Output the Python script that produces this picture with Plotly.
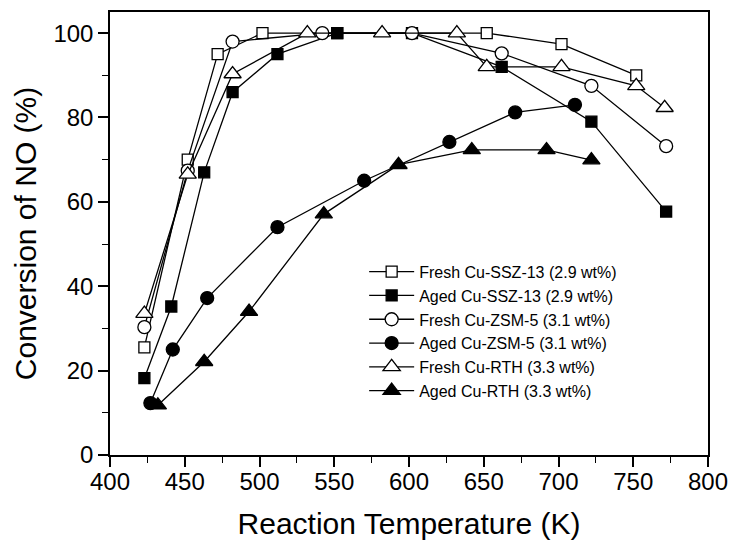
import plotly.graph_objects as go

# Data
fresh_ssz_T = [423, 452, 472, 502, 552, 652, 702, 752]
fresh_ssz = [25.5, 70, 95, 100, 100, 100, 97.4, 90]

aged_ssz_T = [423, 441, 463, 482, 512, 552, 602, 662, 722, 772]
aged_ssz = [18.2, 35.2, 67, 86, 95, 100, 100, 92, 79, 57.7]

fresh_zsm_T = [423, 452, 482, 542, 602, 662, 722, 772]
fresh_zsm = [30.3, 67.4, 98, 100, 100, 95.2, 87.5, 73.2]

aged_zsm_T = [427, 442, 465, 512, 570, 627, 671, 711]
aged_zsm = [12.3, 25, 37.2, 54, 65, 74.2, 81.2, 83]

fresh_rth_T = [423, 452, 482, 532, 582, 632, 652, 702, 752, 771]
fresh_rth = [33.5, 66.5, 90.3, 100, 100, 100, 92, 92, 87.5, 82.3]

aged_rth_T = [432, 463, 493, 543, 593, 642, 692, 722]
aged_rth = [11.8, 22.1, 34, 57.1, 68.8, 72.3, 72.3, 69.9]

names = [
    "Fresh Cu-SSZ-13 (2.9 wt%)",
    "Aged Cu-SSZ-13 (2.9 wt%)",
    "Fresh Cu-ZSM-5 (3.1 wt%)",
    "Aged Cu-ZSM-5 (3.1 wt%)",
    "Fresh Cu-RTH (3.3 wt%)",
    "Aged Cu-RTH (3.3 wt%)",
]

series = [
    (fresh_ssz_T, fresh_ssz, "square", "white", 11),
    (aged_ssz_T, aged_ssz, "square", "black", 11),
    (fresh_zsm_T, fresh_zsm, "circle", "white", 13),
    (aged_zsm_T, aged_zsm, "circle", "black", 13),
    (fresh_rth_T, fresh_rth, "triangle-up", "white", 15),
    (aged_rth_T, aged_rth, "triangle-up", "black", 15),
]

fig = go.Figure()
for name, (xs, ys, sym, fill, size) in zip(names, series):
    fig.add_trace(go.Scatter(
        x=xs, y=ys, name=name, mode="lines+markers",
        line=dict(color="black", width=1.3),
        marker=dict(symbol=sym, size=size, color=fill,
                    line=dict(color="black", width=1.3)),
    ))

font_family = "Liberation Sans, Arial, sans-serif"

fig.update_layout(
    width=730, height=540,
    margin=dict(l=110, r=22, t=12, b=85),
    paper_bgcolor="white", plot_bgcolor="white",
    font=dict(family=font_family, color="black"),
    showlegend=True,
    legend=dict(
        x=0.425, y=0.452, xanchor="left", yanchor="top",
        bgcolor="rgba(0,0,0,0)", borderwidth=0,
        font=dict(size=16, family=font_family, color="black"),
        tracegroupgap=0, itemwidth=45,
    ),
    xaxis=dict(
        range=[400, 800], tickvals=[400, 450, 500, 550, 600, 650, 700, 750, 800],
        showline=True, linecolor="black", linewidth=1.5, mirror=True,
        ticks="outside", ticklen=10, tickwidth=1.5, tickcolor="black",
        minor=dict(ticks="outside", ticklen=6, tickwidth=1.2, tickcolor="black", dtick=25),
        showgrid=False, zeroline=False, automargin=False,
        tickfont=dict(size=24), ticklabelstandoff=-6,
        title=dict(text="Reaction Temperature (K)", font=dict(size=30), standoff=20),
    ),
    yaxis=dict(
        range=[0, 105], tickvals=[0, 20, 40, 60, 80, 100],
        showline=True, linecolor="black", linewidth=1.5, mirror=True,
        ticks="outside", ticklen=10, tickwidth=1.5, tickcolor="black",
        minor=dict(ticks="outside", ticklen=6, tickwidth=1.2, tickcolor="black", dtick=10),
        showgrid=False, zeroline=False, automargin=False,
        tickfont=dict(size=24),
        title=dict(text="Conversion of NO (%)", font=dict(size=30), standoff=8),
    ),
)

fig.write_html("out.html")
